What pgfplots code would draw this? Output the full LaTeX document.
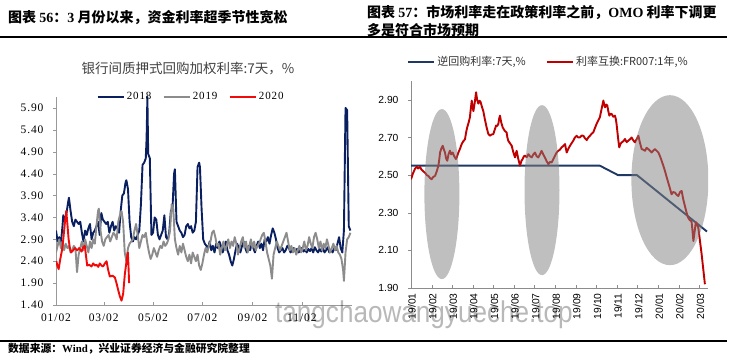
\documentclass[border=0pt]{standalone}
\usepackage{fontspec}
\usepackage{pgfplots}
\pgfplotsset{compat=1.18}
\setmainfont{Liberation Serif}
\setsansfont{Liberation Sans}
\newfontfamily\cjk{Noto Sans CJK SC}
\newfontfamily\tickfont{Liberation Serif}[LetterSpace=8]
\definecolor{navyA}{HTML}{0A1F5F}
\definecolor{grayA}{HTML}{8C8C8C}
\definecolor{redA}{HTML}{F00A0A}
\definecolor{navyB}{HTML}{1F3864}
\definecolor{redB}{HTML}{C00000}
\begin{document}
\begin{tikzpicture}[x=1pt,y=1pt]
\path[use as bounding box] (0,0) rectangle (735,356);
% titles
\node[anchor=west,inner sep=0] at (8,338) {\cjk\bfseries\fontsize{14pt}{16pt}\selectfont 图表 {\rmfamily\bfseries 56}：{\rmfamily\bfseries 3} 月份以来，资金利率超季节性宽松};
\node[anchor=west,inner sep=0] at (367,344) {\cjk\bfseries\fontsize{14pt}{16pt}\selectfont 图表 {\rmfamily\bfseries 57}：市场利率走在政策利率之前，{\rmfamily\bfseries OMO} 利率下调更};
\node[anchor=west,inner sep=0] at (367,326) {\cjk\bfseries\fontsize{14pt}{16pt}\selectfont 多是符合市场预期};
\draw[line width=1.2pt] (0,319) -- (727,319);
\draw[line width=1.2pt] (0,15) -- (727,15);
\node[anchor=west,inner sep=0] at (8,7.5) {\cjk\bfseries\fontsize{10.8pt}{12pt}\selectfont 数据来源：{\rmfamily Wind}，兴业证券经济与金融研究院整理};
% left chart title
\node[inner sep=0,text=black!75] at (188,287) {\cjk\fontsize{13.5pt}{15pt}\selectfont 银行间质押式回购加权利率:7天，\%};

\begin{axis}[
  at={(56pt,51pt)}, anchor=south west, scale only axis,
  width=296pt, height=208pt,
  xmin=1, xmax=367, ymin=1.4, ymax=6.15,
  axis x line*=bottom, axis y line*=left,
  axis line style={black!40, line width=0.8pt},
  tick align=outside, major tick length=3pt,
  xtick style={black!40, yshift=3pt}, ytick style={black!40},
  xtick={1,60,121,182,244,305},
  xticklabels={01/02,03/02,05/02,07/02,09/02,11/02},
  ytick={1.4,1.9,2.4,2.9,3.4,3.9,4.4,4.9,5.4,5.9},
  yticklabel style={xshift=-6pt, /pgf/number format/.cd, fixed, fixed zerofill, precision=2, assume math mode=true},
  ticklabel style={font=\tickfont\fontsize{11.5pt}{12pt}\selectfont},
  xticklabel style={yshift=-2pt},
  legend columns=3,
  legend image code/.code={\draw[#1,line width=2.4pt] (0pt,0pt) -- (26pt,0pt);},
  legend style={at={(0.456,1.0)}, anchor=center, draw=none, fill=none, inner sep=0pt,
    font=\tickfont\fontsize{11pt}{12pt}\selectfont,
    /tikz/every even column/.append style={column sep=9pt}},
  every axis plot/.append style={line width=1.9pt, line join=round},
]
\addplot[navyA] coordinates {
(1,3.10)(3,2.85)(5,2.95)(7,2.80)(9,3.20)(10,3.45)(12,3.30)(14,3.50)(16,3.75)(17,3.85)
(19,3.55)(21,3.30)(23,3.20)(25,3.35)(27,3.30)(29,3.25)(31,3.30)(33,3.05)(35,2.85)(37,3.10)
(39,3.00)(41,3.15)(43,3.25)(45,2.90)(47,3.05)(49,3.10)(51,3.20)(53,3.30)(55,3.00)(57,3.50)
(59,3.35)(61,3.30)(63,3.25)(65,3.30)(67,3.05)(69,3.20)(71,3.30)(73,3.10)(75,3.20)(77,3.15)
(79,3.05)(81,3.55)(83,3.90)(85,3.95)(87,4.20)(88,4.25)(90,4.05)(92,3.30)(94,2.95)(96,2.85)
(98,2.95)(100,2.90)(102,3.00)(104,3.10)(106,3.70)(108,4.60)(110,4.65)(112,4.75)(113,5.20)(114,6.15)
(115,4.85)(117,4.75)(119,3.00)(121,3.05)(123,3.40)(125,3.35)(127,3.00)(129,2.90)(131,3.00)(133,3.10)
(135,3.45)(137,2.95)(139,2.90)(141,3.05)(143,3.55)(145,3.60)(147,4.40)(148,4.50)(150,3.30)(152,3.20)
(154,3.10)(156,3.05)(158,2.95)(160,3.00)(162,3.20)(164,3.25)(166,3.15)(168,3.20)(170,3.05)(172,3.10)
(174,3.30)(176,4.55)(178,4.65)(179,4.55)(181,3.60)(183,2.90)(185,2.80)(187,2.75)(189,2.70)(191,2.85)
(193,2.65)(195,2.75)(197,2.60)(199,2.80)(201,2.70)(203,2.85)(205,2.75)(207,2.60)(209,2.70)(211,2.85)
(213,2.65)(215,2.55)(217,2.40)(219,2.30)(221,2.45)(223,2.65)(225,2.80)(227,2.70)(229,2.60)(231,2.75)
(233,2.85)(235,2.70)(237,2.60)(239,2.75)(241,2.65)(243,2.80)(245,2.70)(247,2.60)(249,2.75)(251,2.85)
(253,2.70)(255,2.80)(257,2.65)(259,2.90)(261,2.85)(263,2.95)(265,2.80)(267,3.00)(269,3.15)(271,3.05)
(273,2.90)(275,2.70)(277,2.60)(279,2.65)(281,2.70)(283,2.60)(285,2.65)(287,2.75)(289,2.70)(291,2.60)
(293,2.65)(295,2.70)(297,2.62)(299,2.68)(301,2.60)(303,2.65)(305,2.70)(307,2.62)(309,2.66)(311,2.60)
(313,2.68)(315,2.63)(317,2.70)(319,2.60)(321,2.72)(323,2.65)(325,2.60)(327,2.68)(329,2.62)(331,2.70)
(333,2.60)(335,2.65)(337,2.72)(339,2.60)(341,2.66)(343,2.60)(345,2.70)(347,2.65)(349,2.80)(351,2.95)
(353,2.70)(355,2.60)(357,3.10)(359,5.90)(361,5.85)(362,4.50)(363,3.20)(365,3.10)
};
\addlegendentry{2018}
\addplot[grayA] coordinates {
(1,2.60)(3,2.75)(5,2.90)(7,2.70)(9,2.85)(11,2.65)(13,2.80)(15,2.70)(17,2.75)(19,2.60)
(21,2.65)(23,2.75)(25,2.70)(27,2.15)(29,2.55)(31,2.70)(33,2.85)(35,2.65)(37,2.90)(39,2.75)
(41,2.60)(43,2.85)(45,2.70)(47,2.90)(49,2.80)(51,3.20)(53,3.55)(54,3.60)(56,3.10)(58,2.85)
(60,2.75)(62,2.90)(64,2.95)(66,3.00)(68,2.85)(70,2.95)(72,3.05)(74,3.00)(76,2.90)(78,3.30)
(80,3.45)(82,3.55)(84,3.30)(86,2.60)(88,2.40)(90,2.70)(92,2.80)(94,2.85)(96,2.90)(98,3.10)
(100,3.25)(102,3.00)(104,2.70)(106,2.85)(108,3.00)(110,2.95)(112,3.05)(114,2.80)(116,2.60)(118,2.45)
(120,2.55)(122,2.70)(124,2.60)(126,2.50)(128,2.65)(130,2.75)(132,2.70)(134,2.85)(136,2.75)(138,2.80)
(140,2.90)(142,3.10)(144,3.70)(146,3.60)(148,2.90)(150,2.70)(152,2.55)(154,2.75)(156,2.60)(158,2.80)
(160,2.65)(162,2.50)(164,2.40)(166,2.55)(168,2.35)(170,2.60)(172,2.50)(174,2.40)(176,2.55)(178,2.30)
(180,2.20)(182,2.35)(184,2.55)(186,2.70)(188,2.60)(190,2.75)(192,2.85)(194,3.05)(196,3.10)(198,2.95)
(200,2.75)(202,2.80)(204,2.55)(206,2.70)(208,2.85)(210,2.65)(212,2.75)(214,2.90)(216,2.70)(218,2.85)
(220,2.75)(222,2.95)(224,2.80)(226,2.55)(228,2.70)(230,2.85)(232,2.95)(234,2.70)(236,2.85)(238,2.60)
(240,2.75)(242,2.90)(244,2.70)(246,2.85)(248,2.65)(250,2.75)(252,2.80)(254,2.90)(256,3.00)(258,3.05)
(260,2.85)(262,2.60)(264,2.45)(266,2.30)(268,2.00)(270,2.55)(272,2.70)(274,2.85)(276,2.75)(278,2.65)
(280,2.75)(282,2.85)(284,2.95)(286,3.05)(288,2.85)(290,2.65)(292,2.75)(294,2.60)(296,2.70)(298,2.55)
(300,2.65)(302,2.75)(304,2.60)(306,2.70)(308,2.85)(310,2.65)(312,2.75)(314,2.95)(316,2.80)(318,2.70)
(320,2.95)(322,3.05)(324,2.90)(326,2.70)(328,2.85)(330,2.65)(332,2.80)(334,2.70)(336,2.90)(338,2.75)
(340,2.60)(342,2.70)(344,2.80)(346,2.65)(348,2.75)(350,2.60)(352,2.55)(354,2.45)(356,2.20)(357,1.95)
(359,2.60)(361,2.90)(363,2.95)(365,3.05)
};
\addlegendentry{2019}
\addplot[redA] coordinates {
(1.5,2.40)(2.6,2.30)(4.3,2.22)(6.3,2.45)(8.4,2.65)(10,2.90)(12.1,3.30)(13.7,3.55)(15.3,3.20)(16.6,2.90)
(18.2,2.70)(19.8,2.60)(22.3,2.65)(24.4,2.70)(27.2,2.65)(29.7,2.70)(32.6,2.62)(34.6,2.72)(36.7,2.75)(37.9,2.55)
(39.6,2.30)(42,2.32)(44.9,2.28)(47,2.35)(49,2.30)(51.1,2.32)(53.2,2.27)(55.2,2.35)(57.3,2.30)(59.3,2.28)
(61.4,2.35)(63.5,2.40)(65.5,2.20)(67.6,2.05)(70.9,2.07)(73.8,2.03)(75.8,1.90)(77.8,1.75)(79.9,1.60)(82,1.50)
(84,1.65)(86.1,2.10)(88.2,2.40)(89.8,2.60)(90.6,2.30)(91.4,1.90)
};
\addlegendentry{2020}
\end{axis}

\begin{axis}[
  at={(411pt,68pt)}, anchor=south west, scale only axis,
  width=297pt, height=207pt,
  xmin=0, xmax=14.42, ymin=1.9, ymax=3.0,
  axis x line*=bottom, axis y line*=left,
  axis line style={black!45, line width=0.8pt},
  tick align=outside, major tick length=3pt,
  xtick style={black!45, yshift=3pt}, ytick style={black!45},
  xtick={0,...,14},
  xticklabels={19/01,19/02,19/03,19/04,19/05,19/06,19/07,19/08,19/09,19/10,19/11,19/12,20/01,20/02,20/03},
  xticklabel style={rotate=90, anchor=east, xshift=1pt, yshift=-1pt},
  ytick={1.9,2.1,2.3,2.5,2.7,2.9},
  yticklabel style={xshift=-6pt, /pgf/number format/.cd, fixed, fixed zerofill, precision=2, assume math mode=true},
  ticklabel style={font=\sffamily\fontsize{10.3pt}{11pt}\selectfont},
  legend columns=2,
  legend image code/.code={\draw[#1,line width=2.2pt] (0pt,0pt) -- (26pt,0pt);},
  legend style={at={(0.463,1.092)}, anchor=center, draw=none, fill=none, inner sep=0pt,
    font=\cjk\fontsize{11pt}{12pt}\selectfont, text=black!80,
    /tikz/every even column/.append style={column sep=18pt}},
  every axis plot/.append style={line width=1.9pt, line join=round},
]
\addplot[navyB] coordinates {(0,2.55)(9.17,2.55)(10.05,2.50)(10.97,2.50)(14.37,2.20)};
\addlegendentry{逆回购利率:7天,\%}
\addplot[redB] coordinates {
(0.00,2.478)(0.04,2.49)(0.08,2.505)(0.14,2.52)(0.2,2.535)(0.28,2.544)(0.34,2.535)(0.44,2.544)(0.5,2.53)(0.6,2.52)
(0.7,2.51)(0.76,2.50)(0.84,2.496)(0.92,2.485)(1.00,2.478)(1.08,2.49)(1.17,2.496)(1.25,2.52)(1.33,2.55)(1.38,2.59)
(1.41,2.62)(1.47,2.64)(1.54,2.656)(1.6,2.635)(1.65,2.62)(1.7,2.59)(1.76,2.576)(1.82,2.61)(1.89,2.63)(1.95,2.61)
(2.02,2.62)(2.1,2.60)(2.18,2.585)(2.24,2.60)(2.30,2.62)(2.38,2.64)(2.46,2.665)(2.54,2.68)(2.62,2.69)(2.68,2.73)
(2.73,2.754)(2.8,2.78)(2.86,2.807)(2.9,2.85)(2.95,2.896)(2.99,2.86)(3.03,2.84)(3.1,2.89)(3.16,2.94)(3.21,2.90)
(3.27,2.88)(3.33,2.895)(3.38,2.888)(3.45,2.86)(3.51,2.84)(3.58,2.80)(3.67,2.754)(3.75,2.72)(3.83,2.709)(3.9,2.715)
(4.00,2.718)(4.06,2.74)(4.13,2.763)(4.18,2.76)(4.24,2.772)(4.28,2.80)(4.32,2.816)(4.38,2.78)(4.45,2.754)(4.55,2.735)
(4.64,2.727)(4.68,2.70)(4.72,2.683)(4.8,2.67)(4.89,2.656)(4.97,2.62)(5.05,2.594)(5.09,2.615)(5.13,2.629)(5.2,2.59)
(5.29,2.55)(5.36,2.575)(5.42,2.585)(5.48,2.60)(5.53,2.603)(5.62,2.595)(5.70,2.611)(5.78,2.60)(5.86,2.594)(5.94,2.61)
(6.02,2.62)(6.1,2.60)(6.18,2.594)(6.26,2.61)(6.34,2.629)(6.42,2.61)(6.50,2.594)(6.58,2.575)(6.67,2.558)(6.75,2.57)
(6.83,2.567)(6.91,2.585)(6.99,2.603)(7.07,2.62)(7.15,2.629)(7.23,2.635)(7.31,2.647)(7.4,2.655)(7.48,2.665)(7.52,2.64)
(7.56,2.62)(7.64,2.64)(7.72,2.656)(7.8,2.67)(7.88,2.683)(7.96,2.70)(8.04,2.709)(8.12,2.70)(8.20,2.70)(8.28,2.71)
(8.37,2.709)(8.45,2.695)(8.53,2.686)(8.61,2.70)(8.69,2.709)(8.77,2.72)(8.85,2.727)(8.93,2.75)(9.01,2.772)(9.09,2.79)
(9.17,2.807)(9.25,2.85)(9.34,2.896)(9.38,2.875)(9.42,2.86)(9.48,2.875)(9.53,2.87)(9.58,2.84)(9.63,2.816)(9.68,2.825)
(9.74,2.825)(9.82,2.81)(9.90,2.816)(9.94,2.80)(9.98,2.772)(10.05,2.70)(10.11,2.647)(10.17,2.665)(10.23,2.674)(10.31,2.68)
(10.39,2.692)(10.47,2.675)(10.55,2.683)(10.63,2.69)(10.71,2.70)(10.79,2.685)(10.87,2.674)(10.95,2.69)(11.04,2.709)(11.12,2.67)
(11.20,2.638)(11.28,2.635)(11.36,2.629)(11.44,2.645)(11.52,2.638)(11.6,2.63)(11.68,2.62)(11.76,2.63)(11.84,2.638)(11.92,2.63)
(12.01,2.62)(12.09,2.60)(12.17,2.576)(12.25,2.55)(12.33,2.522)(12.41,2.49)(12.49,2.46)(12.57,2.43)(12.65,2.398)(12.73,2.41)
(12.82,2.407)(12.9,2.395)(12.98,2.389)(13.06,2.41)(13.14,2.416)(13.22,2.37)(13.30,2.335)(13.38,2.30)(13.46,2.273)(13.54,2.26)
(13.62,2.255)(13.67,2.20)(13.71,2.15)(13.77,2.20)(13.83,2.25)(13.89,2.24)(13.95,2.22)(14.03,2.15)(14.11,2.08)(14.19,2.00)
(14.27,1.92)
};
\addlegendentry{利率互换:FR007:1年,\%}
\fill[gray, fill opacity=0.5] (axis cs:1.50,2.399) ellipse [x radius=17.5pt, y radius=85pt];
\fill[gray, fill opacity=0.5] (axis cs:6.36,2.42) ellipse [x radius=17.5pt, y radius=85pt];
\fill[gray, fill opacity=0.5] (axis cs:12.57,2.473) ellipse [x radius=38.5pt, y radius=85pt];
\end{axis}
% watermark
\node[anchor=base west, inner sep=0, text=black, text opacity=0.28] at (275,34) {\scalebox{0.87}[1]{\sffamily\fontsize{30pt}{32pt}\selectfont tangchaowangyueche.top}};
\end{tikzpicture}
\end{document}
